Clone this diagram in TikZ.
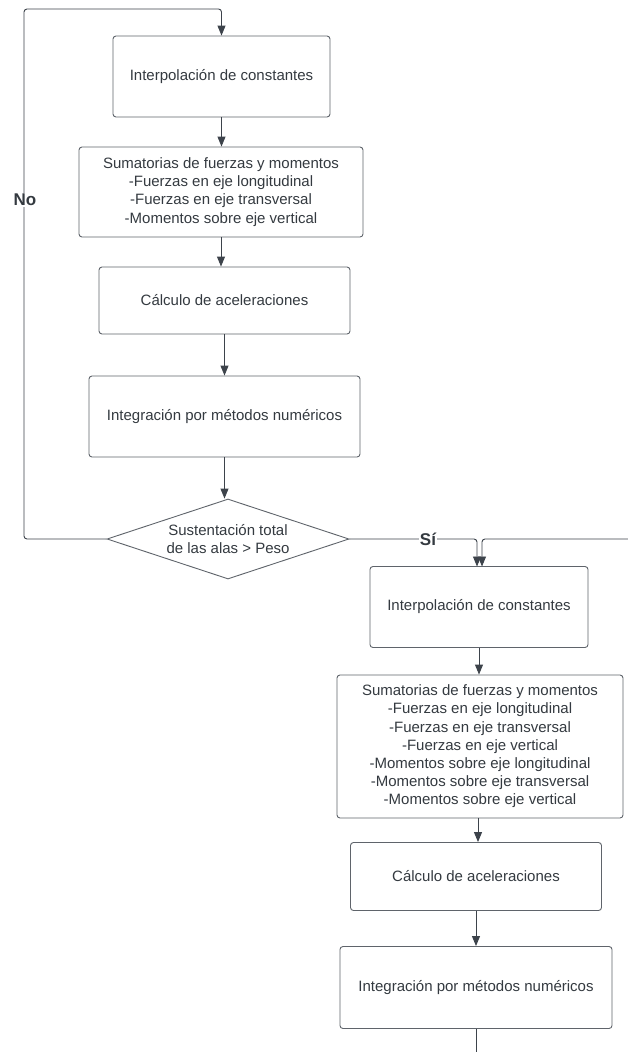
\documentclass[tikz,border=0pt]{standalone}
\usepackage{fontspec}
\setmainfont{Liberation Sans}
\usetikzlibrary{arrows.meta,shapes.geometric}
\definecolor{linec}{HTML}{3D434B}
\definecolor{boxc}{HTML}{5F646B}
\definecolor{textc}{HTML}{343A40}
\begin{document}
\begin{tikzpicture}[x=1pt,y=-1pt,
  box/.style={draw=boxc,line width=0.9pt,rounded corners=3pt,align=center,inner sep=0pt,
    text=textc,font=\fontsize{15}{18.2}\selectfont},
  dec/.style={draw=boxc,line width=0.9pt,diamond,aspect=3,inner sep=0pt,align=center,
    text=textc,font=\fontsize{15}{18.5}\selectfont,minimum width=242pt,minimum height=80pt},
  conn/.style={draw=linec,line width=0.9pt,rounded corners=3pt},
  arr/.style={conn,-{Triangle[width=8pt,length=10pt]}},
  lbl/.style={fill=white,inner sep=1pt,text=textc,font=\fontsize{17}{20}\bfseries\selectfont}]
\useasboundingbox (0,0) rectangle (628,1052);
\fill[white] (0,0) rectangle (628,1052);
% left column
\node[box,minimum width=217pt,minimum height=81pt] (b1) at (221.5,76.5) {Interpolación de constantes};
\node[box,minimum width=284pt,minimum height=90pt] (b2) at (221,192) {Sumatorias de fuerzas y momentos\\-Fuerzas en eje longitudinal\\-Fuerzas en eje transversal\\-Momentos sobre eje vertical};
\node[box,minimum width=251pt,minimum height=67pt] (b3) at (224.5,300.5) {Cálculo de aceleraciones};
\node[box,minimum width=271pt,minimum height=81pt] (b4) at (224.5,416.5) {Integración por métodos numéricos};
\node[dec] (d) at (228,539) {Sustentación total\\de las alas > Peso};
% right column
\node[box,minimum width=218pt,minimum height=81pt] (c1) at (479,607) {Interpolación de constantes};
\node[box,minimum width=286pt,minimum height=143pt] (c2) at (480,746.5) {Sumatorias de fuerzas y momentos\\-Fuerzas en eje longitudinal\\-Fuerzas en eje transversal\\-Fuerzas en eje vertical\\-Momentos sobre eje longitudinal\\-Momentos sobre eje transversal\\-Momentos sobre eje vertical};
\node[box,minimum width=251pt,minimum height=68pt] (c3) at (476,876.5) {Cálculo de aceleraciones};
\node[box,minimum width=272pt,minimum height=82pt] (c4) at (476,987.5) {Integración por métodos numéricos};
\coordinate (rin) at (628,539);
\coordinate (bot) at (476,1052);
% connectors
\draw[arr] (d.west) -- (24,539) -- (24,9) -- (221.5,9) -- (b1.north);
\draw[arr] (b1.south) -- (b1.south |- b2.north);
\draw[arr] (b2.south) -- (b2.south |- b3.north);
\draw[arr] (b3.south) -- (b3.south |- b4.north);
\draw[arr] (b4.south) -- (b4.south |- d.north);
\draw[arr] (d.east) -- (477,539) -- (477,566.5);
\draw[arr] (rin) -- (482,539) -- (482,566.5);
\draw[arr] (c1.south) -- (c1.south |- c2.north);
\draw[arr] (c2.south) ++(-2,0) coordinate (c2s) (c2s) -- (c2s |- c3.north);
\draw[arr] (c3.south) -- (c3.south |- c4.north);
\draw[conn] (c4.south) -- (bot);
% labels
\node[lbl] (no) at (25,200) {No};
\node[lbl] (si) at (428,539) {Sí};
\end{tikzpicture}
\end{document}
